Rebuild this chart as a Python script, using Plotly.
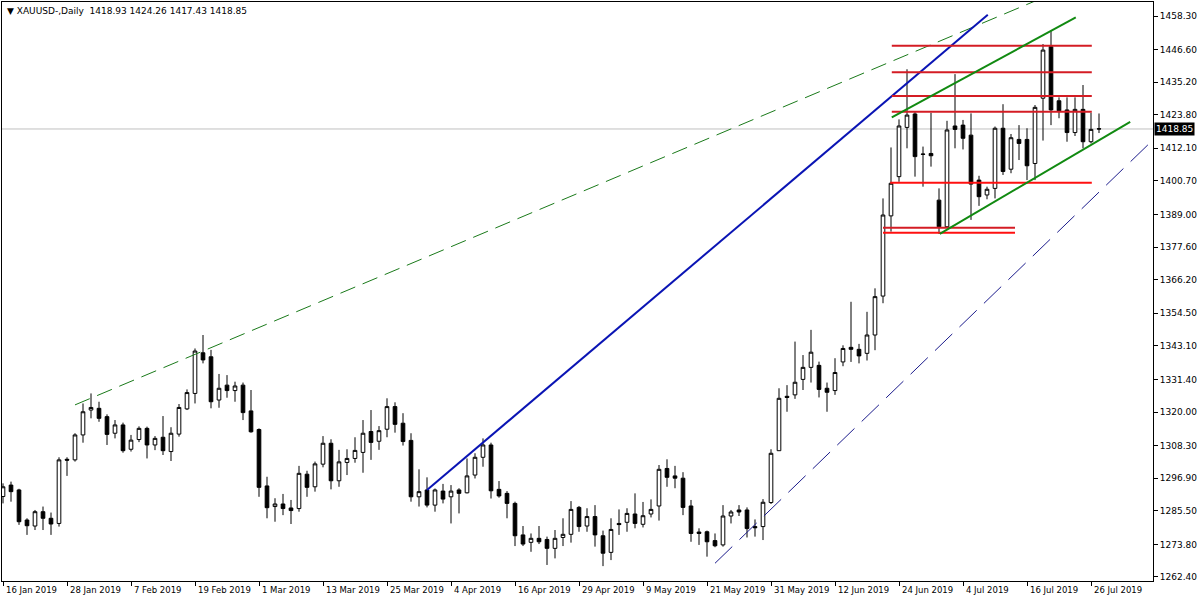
import plotly.graph_objects as go

# ---------------- data ----------------
open_ = [1290.5, 1294.5, 1292.8, 1282.3, 1280.2, 1285.2, 1282.9, 1281.1, 1303.5, 1303.3,
         1312.0, 1320.7, 1321.3, 1318.4, 1312.6, 1315.5, 1307.0, 1310.4, 1314.3, 1308.5,
         1311.2, 1306.2, 1312.3, 1321.1, 1326.5, 1340.7, 1339.3, 1324.2, 1329.4, 1327.5,
         1329.4, 1320.4, 1313.9, 1294.2, 1287.0, 1287.9, 1286.5, 1286.3, 1298.3, 1293.9,
         1301.8, 1309.1, 1296.0, 1302.4, 1303.8, 1305.9, 1313.2, 1309.8, 1314.0, 1321.9,
         1316.1, 1310.1, 1290.4, 1292.8, 1287.5, 1292.4, 1290.4, 1292.8, 1291.8, 1298.0,
         1304.2, 1308.5, 1293.0, 1291.6, 1288.1, 1277.1, 1274.5, 1275.9, 1275.5, 1272.4,
         1276.2, 1277.3, 1286.7, 1280.2, 1283.5, 1276.8, 1271.0, 1281.1, 1281.5, 1284.4,
         1280.8, 1284.4, 1287.2, 1300.3, 1297.7, 1296.9, 1287.2, 1278.1, 1278.2, 1275.1,
         1273.6, 1283.7, 1285.8, 1285.8, 1280.0, 1280.0, 1288.4, 1306.5, 1325.5, 1326.0,
         1331.4, 1335.6, 1336.3, 1328.3, 1327.5, 1337.5, 1342.6, 1341.9, 1340.5, 1346.9,
         1360.5, 1388.5, 1402.2, 1419.4, 1424.1, 1410.1, 1410.3, 1394.0, 1384.7, 1419.9,
         1420.2, 1416.7, 1401.0, 1395.8, 1398.1, 1419.1, 1404.8, 1415.2, 1415.2, 1406.8,
         1429.6, 1447.6, 1428.7, 1425.5, 1417.6, 1425.7, 1414.4, 1418.93]
high = [1295.1, 1295.7, 1293.2, 1282.9, 1285.8, 1287.0, 1284.9, 1304.2, 1304.2, 1312.6,
        1323.0, 1326.5, 1323.6, 1319.2, 1317.2, 1316.3, 1312.0, 1315.0, 1314.9, 1311.6,
        1318.6, 1314.7, 1322.8, 1327.9, 1342.2, 1346.9, 1341.7, 1333.3, 1332.9, 1330.6,
        1330.3, 1327.7, 1314.3, 1297.4, 1289.9, 1291.4, 1289.3, 1301.2, 1299.5, 1302.7,
        1311.6, 1310.5, 1306.8, 1307.0, 1311.2, 1317.2, 1320.7, 1315.1, 1324.8, 1323.4,
        1319.6, 1312.6, 1300.0, 1297.2, 1293.3, 1294.9, 1294.5, 1293.4, 1303.8, 1305.6,
        1310.8, 1309.3, 1295.9, 1292.4, 1288.7, 1280.2, 1277.6, 1280.2, 1276.5, 1278.8,
        1282.9, 1288.9, 1287.2, 1286.4, 1287.5, 1278.6, 1282.9, 1286.0, 1286.4, 1291.6,
        1288.6, 1289.5, 1301.5, 1303.5, 1301.2, 1299.0, 1289.3, 1279.4, 1278.6, 1277.6,
        1287.5, 1285.8, 1287.5, 1286.7, 1282.5, 1289.6, 1307.0, 1328.3, 1329.4, 1344.6,
        1339.9, 1348.7, 1337.6, 1330.3, 1338.8, 1343.3, 1358.5, 1343.8, 1355.0, 1363.2,
        1394.6, 1412.4, 1422.2, 1439.7, 1424.9, 1412.7, 1424.5, 1398.1, 1421.7, 1438.0,
        1422.0, 1424.3, 1402.5, 1398.7, 1419.7, 1427.5, 1417.1, 1420.2, 1419.1, 1427.2,
        1448.5, 1453.2, 1429.9, 1429.9, 1429.9, 1434.2, 1424.5, 1424.26]
low = [1288.1, 1288.7, 1280.6, 1277.1, 1278.8, 1278.8, 1277.1, 1280.0, 1297.7, 1302.7,
       1309.3, 1317.8, 1316.6, 1308.5, 1310.8, 1305.8, 1306.2, 1309.5, 1303.8, 1306.7,
       1305.0, 1302.9, 1311.4, 1320.7, 1323.0, 1337.0, 1321.3, 1321.5, 1325.0, 1323.6,
       1317.2, 1312.8, 1290.4, 1282.9, 1281.7, 1284.0, 1280.9, 1285.2, 1290.4, 1292.2,
       1300.7, 1293.0, 1293.9, 1298.0, 1302.3, 1298.8, 1303.3, 1306.8, 1311.2, 1312.8,
       1308.3, 1288.7, 1287.0, 1286.7, 1285.2, 1288.1, 1281.1, 1284.6, 1291.6, 1296.8,
       1300.9, 1289.8, 1290.1, 1282.9, 1273.2, 1273.2, 1271.2, 1273.9, 1266.6, 1268.9,
       1273.2, 1274.4, 1278.2, 1278.2, 1273.0, 1266.2, 1268.3, 1277.1, 1278.2, 1279.4,
       1279.7, 1283.2, 1282.1, 1293.9, 1293.4, 1284.0, 1274.7, 1273.6, 1269.5, 1272.8,
       1273.0, 1281.1, 1283.7, 1276.2, 1276.5, 1275.3, 1287.9, 1306.5, 1320.1, 1324.6,
       1327.7, 1330.3, 1325.1, 1320.1, 1326.0, 1336.0, 1337.5, 1337.0, 1338.0, 1341.6,
       1358.0, 1383.0, 1400.4, 1412.1, 1402.2, 1398.7, 1405.7, 1382.2, 1384.5, 1412.1,
       1411.7, 1387.1, 1392.0, 1394.3, 1394.6, 1402.8, 1403.4, 1408.0, 1401.0, 1401.0,
       1414.8, 1420.2, 1422.6, 1414.4, 1416.4, 1412.1, 1413.8, 1417.43]
close = [1293.9, 1292.2, 1281.7, 1280.3, 1285.2, 1282.9, 1280.9, 1303.3, 1303.2, 1312.0,
         1320.1, 1321.6, 1317.8, 1312.2, 1315.5, 1306.5, 1310.2, 1314.3, 1308.5, 1310.8,
         1306.5, 1312.6, 1321.6, 1326.8, 1341.3, 1338.2, 1323.6, 1328.3, 1327.5, 1329.1,
         1319.8, 1313.1, 1293.7, 1286.6, 1287.9, 1286.3, 1285.6, 1298.6, 1293.7, 1301.9,
         1309.1, 1296.0, 1302.6, 1303.8, 1306.6, 1312.6, 1309.4, 1313.5, 1321.9, 1315.7,
         1309.7, 1290.4, 1292.2, 1287.5, 1292.8, 1289.6, 1292.4, 1291.6, 1297.7, 1304.2,
         1308.5, 1292.5, 1290.7, 1288.1, 1276.8, 1273.9, 1275.9, 1274.7, 1272.4, 1275.9,
         1277.3, 1286.0, 1280.0, 1283.5, 1277.1, 1270.7, 1279.0, 1280.7, 1284.6, 1281.1,
         1283.8, 1286.0, 1300.0, 1297.2, 1296.9, 1286.7, 1277.6, 1277.6, 1274.7, 1273.3,
         1283.7, 1285.1, 1285.1, 1279.3, 1279.6, 1288.5, 1305.6, 1324.8, 1325.1, 1330.4,
         1335.6, 1340.9, 1327.9, 1326.9, 1333.8, 1342.2, 1341.9, 1339.6, 1346.9, 1360.3,
         1388.8, 1399.9, 1419.9, 1423.7, 1409.2, 1410.0, 1409.5, 1384.7, 1418.5, 1418.7,
         1415.6, 1399.6, 1395.2, 1397.8, 1419.1, 1404.0, 1415.8, 1413.8, 1406.0, 1426.4,
         1446.4, 1425.5, 1425.2, 1417.6, 1425.7, 1414.4, 1418.7, 1418.85]

date_tick_bars = [0, 8, 16, 24, 32, 40, 48, 56, 64, 72, 80, 88, 96, 104, 112, 120, 128, 136]
date_labels = ["16 Jan 2019", "28 Jan 2019", "7 Feb 2019", "19 Feb 2019", "1 Mar 2019",
               "13 Mar 2019", "25 Mar 2019", "4 Apr 2019", "16 Apr 2019", "29 Apr 2019",
               "9 May 2019", "21 May 2019", "31 May 2019", "12 Jun 2019", "24 Jun 2019",
               "4 Jul 2019", "16 Jul 2019", "26 Jul 2019"]
price_ticks = [1458.30, 1446.60, 1435.20, 1423.80, 1412.10, 1400.70, 1389.00, 1377.60,
               1366.20, 1354.50, 1343.10, 1331.40, 1320.00, 1308.30, 1296.90, 1285.50,
               1273.80, 1262.40]

# drawn objects (bar index, price)
green_dash_x = [9.0, 130.0]
green_dash_y = [1322.5, 1464.7]
blue_trend_x = [53.0, 123.1]
blue_trend_y = [1292.8, 1458.7]
blue_dash_x = [89.0, 144.0]
blue_dash_y = [1267.2, 1415.7]
green_upper_x = [111.1, 134.1]
green_upper_y = [1422.9, 1457.8]
green_lower_x = [117.1, 140.9]
green_lower_y = [1382.2, 1421.3]
red_start = [111.1, 111.1, 111.1, 111.1, 110.9, 110.0, 110.0]
red_end = [136.1, 136.1, 136.1, 136.1, 136.1, 126.5, 126.5]
red_level = [1447.9, 1438.7, 1430.4, 1424.9, 1400.1, 1384.4, 1382.6]

symbol = "XAUUSD-,Daily"

# ---------------- figure ----------------
bars = list(range(len(open_)))
FONT = "DejaVu Sans"

fig = go.Figure()
fig.add_trace(go.Candlestick(
    x=bars, open=open_, high=high, low=low, close=close,
    increasing=dict(fillcolor="white", line=dict(color="black", width=1)),
    decreasing=dict(fillcolor="black", line=dict(color="black", width=1)),
    whiskerwidth=0, hoverinfo="skip", showlegend=False))

def seg(xs, ys, color, width, dash="solid"):
    fig.add_trace(go.Scatter(x=xs, y=ys, mode="lines", hoverinfo="skip", showlegend=False,
                             line=dict(color=color, width=width, dash=dash)))

seg(green_dash_x, green_dash_y, "#1a7a1a", 1, "16px,8px")
seg(blue_trend_x, blue_trend_y, "#0a14b4", 2)
seg(blue_dash_x, blue_dash_y, "#1c1c8c", 1, "24px,10px")
for xs, xe, lv in zip(red_start, red_end, red_level):
    col = "#ff1010" if lv in (1400.1, 1382.6) else "#d41c24"
    seg([xs, xe], [lv, lv], col, 2)
seg(green_upper_x, green_upper_y, "#118a11", 2)
seg(green_lower_x, green_lower_y, "#118a11", 2)

last = close[-1]
fig.add_shape(type="line", xref="paper", x0=0, x1=1, yref="y", y0=last, y1=last,
              line=dict(color="#c0c0c0", width=1), layer="below")

fig.add_annotation(xref="paper", x=1, xanchor="left", xshift=1, yref="y", y=last,
                   text=f"{last:.2f}", showarrow=False, bgcolor="black",
                   font=dict(family=FONT, size=9, color="white"), borderpad=1)
fig.add_annotation(xref="paper", x=0, xanchor="left", xshift=3, yref="paper", y=1,
                   yanchor="top", yshift=-2,
                   text=f"▼ {symbol}  {open_[-1]:.2f} {high[-1]:.2f} {low[-1]:.2f} {close[-1]:.2f}",
                   showarrow=False, font=dict(family=FONT, size=9, color="black"))

# date labels, left-aligned just right of their tick marks (MT4 style)
for b, lab in zip(date_tick_bars, date_labels):
    fig.add_annotation(xref="x", x=b, xanchor="left", xshift=1, yref="paper", y=0,
                       yanchor="top", yshift=-2, text=lab, showarrow=False,
                       font=dict(family=FONT, size=8.5, color="black"))

fig.update_layout(
    width=1200, height=600,
    margin=dict(l=2, r=47, t=2, b=19),
    paper_bgcolor="white", plot_bgcolor="white",
    showlegend=False, boxgap=0.35,
    font=dict(family=FONT, size=9, color="black"),
    xaxis=dict(range=[-0.125, 143.75], tickmode="array", tickvals=date_tick_bars,
               showticklabels=False, ticks="outside", ticklen=4, tickcolor="black",
               showline=True, mirror=True,
               linecolor="black", linewidth=1, showgrid=False, zeroline=False,
               rangeslider=dict(visible=False), automargin=False),
    yaxis=dict(range=[1261.0, 1463.19], side="right", tickmode="array",
               tickvals=price_ticks, ticktext=[f"{p:.2f}" for p in price_ticks],
               ticks="outside", ticklen=4, tickcolor="black", showline=True, mirror=True,
               linecolor="black", linewidth=1, showgrid=False, zeroline=False,
               automargin=False, tickfont=dict(family=FONT, size=9, color="black")),
)

fig.write_html("out.html", config={"displayModeBar": False},
               post_script="document.body.style.margin='0';document.body.style.overflow='hidden';")
